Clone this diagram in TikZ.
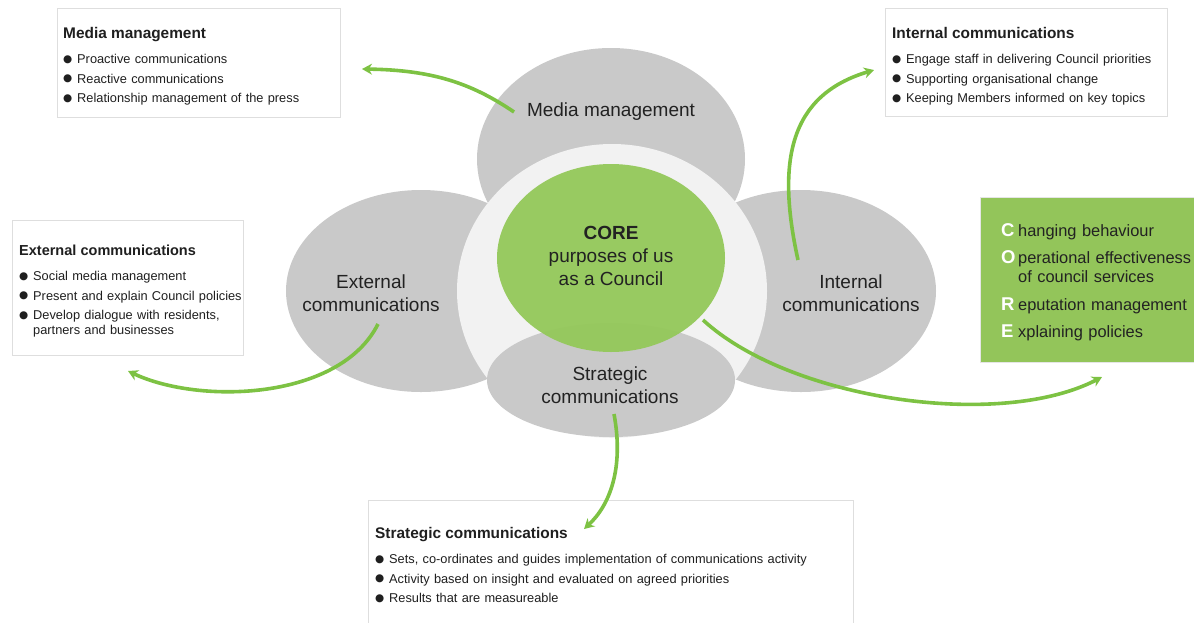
\documentclass[tikz,border=0pt]{standalone}
\usepackage{fontspec}
\setmainfont{Liberation Sans}
\newfontfamily\symbolfont{DejaVu Sans}
\usetikzlibrary{arrows.meta}

\definecolor{bubblegrey}{HTML}{C9C9C9}
\definecolor{overlapgrey}{HTML}{B8B8B8}
\definecolor{ringwhite}{HTML}{F2F2F2}
\definecolor{coregreen}{HTML}{94C85A}
\definecolor{keygreen}{HTML}{93C55A}
\definecolor{flowgreen}{HTML}{7DC243}
\definecolor{inkgrey}{HTML}{222222}

% bullet lists in the white boxes
\newcommand{\dotmark}{{\symbolfont\fontsize{10.5}{10}\selectfont \raisebox{1.4pt}{●}}}
\newcommand{\boxtitle}[2]{{\bfseries\fontsize{#1}{15}\selectfont #2}\par\vspace{10pt}}
\newcommand{\bulline}[1]{\hangindent=14pt\hangafter=1\noindent\makebox[14pt][l]{\dotmark}#1\par\vspace{4.5pt}}
% lines of the CORE key
\newcommand{\keyline}[2]{\hangindent=17pt\hangafter=1\noindent\makebox[17pt][l]{\textcolor{white}{\bfseries\fontsize{18.5}{19}\selectfont #1}}#2\par\vspace{8.5pt}}

\begin{document}
\begin{tikzpicture}[x=1pt, y=-1pt,
    bubble/.style={fill=bubblegrey},
    bubblelabel/.style={font=\fontsize{19}{23}\selectfont, text=inkgrey, align=center},
    infobox/.style={draw=black!13, fill=white, line width=0.8pt},
    infotext/.style={anchor=base west, inner sep=0pt, text=black!88, font=\fontsize{12.8}{15}\selectfont, text width=#1, align=left},
    flowarrow/.style={draw=flowgreen, line width=3.6pt, -{Stealth[length=10pt,width=11pt]}}]
  \useasboundingbox (0,0) rectangle (1194,622);

  % the four bubbles
  \fill[bubble] (611,159) ellipse [x radius=134, y radius=111];
  \fill[bubble] (421,291) ellipse [x radius=135, y radius=101];
  \fill[bubble] (801,291) ellipse [x radius=135, y radius=101];
  \begin{scope}
    \clip (611,159) ellipse [x radius=134, y radius=111];
    \fill[overlapgrey] (421,291) ellipse [x radius=135, y radius=101];
    \fill[overlapgrey] (801,291) ellipse [x radius=135, y radius=101];
  \end{scope}
  \fill[ringwhite] (612,291) ellipse [x radius=155, y radius=147];
  \fill[bubble] (611,380) ellipse [x radius=124, y radius=57];
  \fill[coregreen, fill opacity=0.95] (611,258) ellipse [x radius=114, y radius=94];

  \node[bubblelabel] (medialabel) at (611,112) {Media management};
  \node[bubblelabel] (externallabel) at (371,293) {External\\communications};
  \node[bubblelabel] (internallabel) at (851,293) {Internal\\communications};
  \node[bubblelabel] (strategiclabel) at (610,385) {Strategic\\communications};
  \node[bubblelabel] (corelabel) at (611,256) {\textbf{CORE}\\purposes of us\\as a Council};

  % white boxes
  \fill[infobox] (57,8) rectangle (340,117);
  \node[infotext=270pt] (mediatext) at (63,38.5) {\boxtitle{15.4}{Media management}
    \bulline{Proactive communications}
    \bulline{Reactive communications}
    \bulline{Relationship management of the press}};

  \fill[infobox] (885,8) rectangle (1167,116);
  \node[infotext=270pt] (internaltext) at (892,38.5) {\boxtitle{15.4}{Internal communications}
    \bulline{Engage staff in delivering Council priorities}
    \bulline{Supporting organisational change}
    \bulline{Keeping Members informed on key topics}};

  \fill[infobox] (12,220) rectangle (243,355);
  \node[infotext=225pt] (externaltext) at (19,255.5) {\boxtitle{14.5}{External communications}
    \bulline{Social media management}
    \bulline{Present and explain Council policies}
    \bulline{Develop dialogue with residents,\hfil\break partners and businesses}};

  \fill[infobox] (368,500) rectangle (853,650);
  \node[infotext=470pt] (strategictext) at (375,538.5) {\boxtitle{15.4}{Strategic communications}
    \bulline{Sets, co-ordinates and guides implementation of communications activity}
    \bulline{Activity based on insight and evaluated on agreed priorities}
    \bulline{Results that are measureable}};

  % CORE key
  \fill[keygreen, draw=black!10, line width=0.8pt] (980,197) rectangle (1200,362);
  \node[infotext=200pt, font=\fontsize{16.4}{19}\selectfont, text=inkgrey] (coretext) at (1001,236) {%
    \keyline{C}{hanging behaviour}
    \keyline{O}{perational effectiveness\hfil\break of council services}
    \keyline{R}{eputation management}
    \keyline{E}{xplaining policies}};

  % arrows
  \coordinate (mediastart) at (514,112);
  \coordinate (mediatip) at (362,69);
  \coordinate (internalstart) at (798,260);
  \coordinate (internaltip) at (874,70);
  \coordinate (externalstart) at (378,324);
  \coordinate (externaltip) at (128,371);
  \coordinate (corestart) at (703,320);
  \coordinate (coretip) at (1102,377);
  \coordinate (strategicstart) at (614,414);
  \coordinate (strategictip) at (584,529);
  \draw[flowarrow] (mediastart) .. controls (470,82) and (430,70) .. (mediatip);
  \draw[flowarrow] (internalstart) .. controls (776,160) and (790,95) .. (internaltip);
  \draw[flowarrow] (externalstart) .. controls (340,400) and (200,405) .. (externaltip);
  \draw[flowarrow] (corestart) .. controls (790,400) and (1000,430) .. (coretip);
  \draw[flowarrow] (strategicstart) .. controls (624,468) and (610,505) .. (strategictip);
\end{tikzpicture}
\end{document}
